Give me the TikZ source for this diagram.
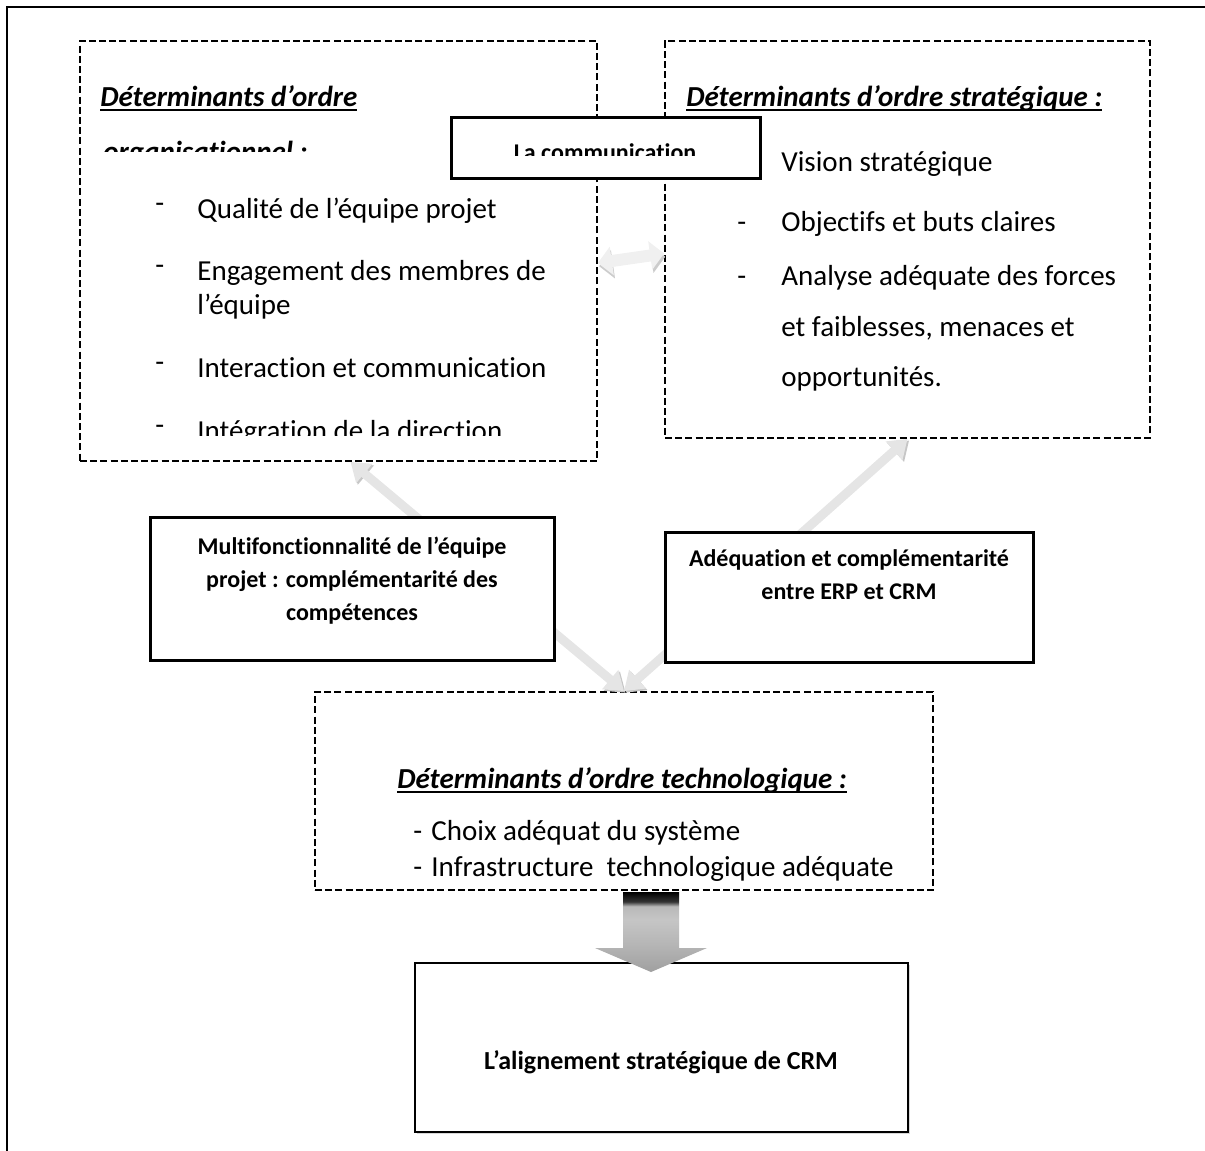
\documentclass[tikz,border=0pt]{standalone}
\usepackage{fontspec}
\setmainfont[Ligatures=NoCommon]{Carlito}
\usepackage{tikz}
\usetikzlibrary{arrows.meta,positioning,fit,calc,shadows}
\newcommand\titleul[1]{\setbox0\hbox{#1}\rlap{\rule[-2.4pt]{\wd0}{0.75pt}}\box0}
\pgfdeclareverticalshading{blockshade}{100bp}{color(0bp)=(gray!75); color(25bp)=(gray!75); color(42bp)=(gray!58); color(58bp)=(gray!45); color(66bp)=(gray!55); color(69bp)=(black!80); color(75bp)=(black); color(100bp)=(black)}
\tikzset{dbox/.style={draw,dash pattern=on 3.5pt off 1.6pt,line width=0.9pt,inner sep=0pt},sbox/.style={draw,fill=white,line width=1.5pt,inner sep=0pt,drop shadow={shadow xshift=0.8pt,shadow yshift=-0.8pt,fill=gray!55}},thinbox/.style={draw,fill=white,line width=0.8pt,inner sep=0pt,drop shadow={shadow xshift=1pt,shadow yshift=-1pt,fill=gray!60}},ttl/.style={font=\fontsize{14.5}{17}\selectfont\bfseries\itshape,anchor=base west,inner sep=0pt},itm/.style={font=\fontsize{14.5}{17}\selectfont,anchor=base west,inner sep=0pt},lbl/.style={font=\fontsize{12}{16.5}\selectfont\bfseries,align=center,anchor=base,inner sep=0pt},lightarr/.style={line width=4.5pt,draw=gray!20,{Triangle[width=12pt,length=9pt]}-{Triangle[width=12pt,length=9pt]},preaction={draw=gray!45,transform canvas={xshift=0.8pt,yshift=-0.8pt}}},dblarr/.style={line width=6pt,draw=gray!12,{Triangle[width=14pt,length=7pt]}-{Triangle[width=14pt,length=7pt]},preaction={draw=gray!40,transform canvas={xshift=0.6pt,yshift=-1.6pt}}}}

\begin{document}
\begin{tikzpicture}[x=0.5pt,y=-0.5pt]
\useasboundingbox (0,0) rectangle (1205,1151);
\draw[line width=1pt] (7,1151) -- (7,7) -- (1205,7);
% dashed boxes
\node[dbox,fit={(80,41) (597,461)}] (org) {};
\node[dbox,fit={(665,41) (1150,438)}] (strat) {};
\node[dbox,fit={(315,692) (933,890)}] (tech) {};
% organisationnel
\node[ttl] (orgT1) at (100,106) {\titleul{Déterminants d’ordre}};
\begin{scope}
\clip (80,41) rectangle (597,151);
\node[ttl] (orgT2) at (103,161.5) {\titleul{organisationnel :}};
\end{scope}
\begin{scope}
\clip (80,41) rectangle (597,435);
\node[itm] (orgD1) at (155,212) {-};
\node[itm] (orgI1) at (197,218) {Qualité de l’équipe projet};
\node[itm] (orgD2) at (155,274) {-};
\node[itm] (orgI2) at (197,280) {Engagement des membres de};
\node[itm] (orgI2b) at (197,314) {l’équipe};
\node[itm] (orgD3) at (155,371) {-};
\node[itm] (orgI3) at (197,377) {Interaction et communication};
\node[itm] (orgD4) at (155,434) {-};
\node[itm] (orgI4) at (197,440) {Intégration de la direction};
\end{scope}
% strategique
\node[ttl] (stratT) at (686,106) {\titleul{Déterminants d’ordre stratégique :}};
\node[itm] (stratI1) at (781,171) {Vision stratégique};
\node[itm] (stratD2) at (737,231) {-};
\node[itm] (stratI2) at (781,231) {Objectifs et buts claires};
\node[itm] (stratD3) at (737,285) {-};
\node[itm] (stratI3) at (781,285) {Analyse adéquate des forces};
\node[itm] (stratI3b) at (781,336) {et faiblesses, menaces et};
\node[itm] (stratI3c) at (781,386) {opportunités.};
% technologique
\node[ttl] (techT) at (397,788) {\titleul{Déterminants d’ordre technologique :}};
\node[itm] (techD1) at (413,840) {-};
\node[itm] (techI1) at (431,840) {Choix adéquat du système};
\node[itm] (techD2) at (413,876) {-};
\node[itm] (techI2) at (431,876) {Infrastructure~ technologique adéquate};
% arrows
\draw[lightarr] ([xshift=6pt]org.south) -- (tech.north);
\draw[lightarr] (strat.south) -- (tech.north);
\draw[dblarr] ([yshift=-6pt]org.east) -- ([yshift=-7pt]strat.west);
% solid boxes
\node[sbox,fit={(451,117) (760,178)}] (comm) {};
\begin{scope}
\clip (451,117) rectangle (760,155.5);
\node[lbl] (commT) at (605,160.5) {La communication};
\end{scope}
\node[sbox,fit={(150,517) (554,660)}] (multi) {};
\node[lbl] (multiT) at (352,620) {Multifonctionnalité de l’équipe\\projet : complémentarité des\\compétences};
\node[sbox,fit={(665,532) (1033,662)}] (adeq) {};
\node[lbl] (adeqT) at (849,599) {Adéquation et complémentarité\\entre ERP et CRM};
\node[thinbox,fit={(415,963) (908,1132)}] (crm) {};
\node[lbl,font=\fontsize{13}{16}\selectfont\bfseries] (crmT) at (661,1069) {L’alignement stratégique de CRM};
% block arrow
\shade[shading=blockshade] (623,892) -- (679,892) -- (679,948) -- (707,948) -- (651,972) -- (595,948) -- (623,948) -- cycle;
\end{tikzpicture}
\end{document}
